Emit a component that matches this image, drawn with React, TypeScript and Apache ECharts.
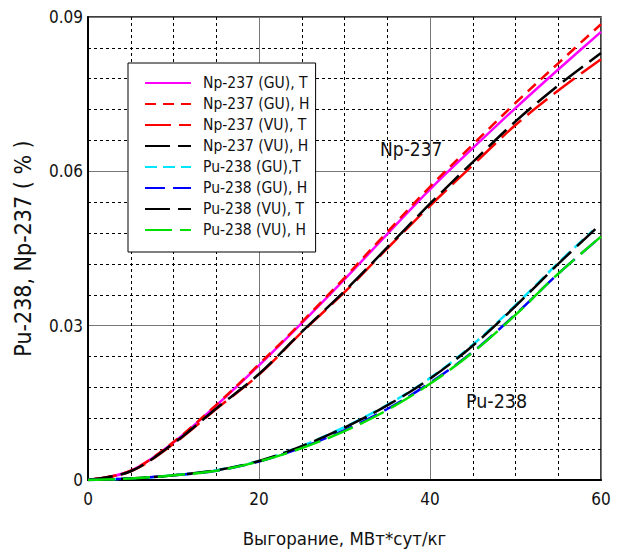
import React, { useEffect, useRef } from "react";
import * as echarts from "echarts";

const burnup = [0, 5, 10, 15, 20, 25, 30, 35, 40, 45, 50, 55, 60];
const burnupCyan = [0, 5, 10, 15, 20, 25, 30, 35, 40, 45, 50, 55, 59];

const npGuT = [0, 0.0018, 0.0073, 0.0145, 0.0223, 0.0305, 0.039, 0.0478, 0.0565, 0.0645, 0.0723, 0.0798, 0.0871];
const npGuH = [0, 0.0018, 0.0074, 0.0146, 0.0225, 0.0307, 0.0393, 0.0482, 0.057, 0.0652, 0.0733, 0.081, 0.0886];
const npVuT = [0, 0.0017, 0.007, 0.0138, 0.0205, 0.0287, 0.0365, 0.045, 0.0533, 0.0612, 0.069, 0.0757, 0.0818];
const npVuH = [0, 0.0017, 0.0071, 0.0139, 0.0206, 0.0288, 0.0367, 0.0452, 0.0537, 0.0618, 0.0697, 0.0767, 0.083];
const puGuT = [0, 0.0003, 0.0009, 0.0019, 0.0037, 0.0066, 0.0103, 0.0146, 0.0198, 0.0263, 0.034, 0.0422, 0.0484];
const puGuH = [0, 0.0003, 0.0009, 0.0018, 0.0036, 0.0063, 0.0097, 0.0138, 0.0189, 0.0249, 0.0322, 0.0401, 0.0473];
const puVuT = [0, 0.0003, 0.0009, 0.0019, 0.0037, 0.0066, 0.0102, 0.0145, 0.0197, 0.0261, 0.0338, 0.042, 0.0498];
const puVuH = [0, 0.0003, 0.0009, 0.0018, 0.0036, 0.0062, 0.0095, 0.0136, 0.0187, 0.0248, 0.0321, 0.0401, 0.0473];

const yTicks = [0, 0.03, 0.06, 0.09];
const yTickLabels = ["0", "0.03", "0.06", "0.09"];

const FONT = "'Liberation Sans Narrow', 'Arial Narrow', 'DejaVu Sans Condensed', sans-serif";

const seriesDefs = [
  { name: "Np-237 (GU), T", x: burnup, y: npGuT, color: "#ff00ff", dash: "solid" as any },
  { name: "Np-237 (GU), H", x: burnup, y: npGuH, color: "#ff0000", dash: [11, 7] },
  { name: "Np-237 (VU), T", x: burnup, y: npVuT, color: "#ff0000", dash: [26, 8] },
  { name: "Np-237 (VU), H", x: burnup, y: npVuH, color: "#000000", dash: [25, 8] },
  { name: "Pu-238 (GU),T", x: burnupCyan, y: puGuT, color: "#00e5ff", dash: [12, 6] },
  { name: "Pu-238 (GU), H", x: burnup, y: puGuH, color: "#0000ff", dash: [20, 8] },
  { name: "Pu-238 (VU), T", x: burnup, y: puVuT, color: "#000000", dash: [25, 8] },
  { name: "Pu-238 (VU), H", x: burnup, y: puVuH, color: "#00e000", dash: [27, 8] },
];

export default function App() {
  const ref = useRef<HTMLDivElement>(null);
  useEffect(() => {
    if (!ref.current) return;
    const chart = echarts.init(ref.current, null, { renderer: "svg" });
    chart.setOption({
      animation: false,
      backgroundColor: "#ffffff",
      textStyle: { fontFamily: FONT },
      grid: {
        left: 88,
        right: 17,
        top: 17,
        bottom: 72,
        show: true,
        borderColor: "#000",
        borderWidth: 1.5,
        backgroundColor: "transparent",
      },
      legend: {
        orient: "vertical",
        left: 128,
        top: 63,
        padding: [12, 6, 14, 16],
        itemWidth: 46,
        itemHeight: 14,
        itemGap: 5,
        backgroundColor: "#fff",
        borderColor: "#000",
        borderWidth: 1,
        borderRadius: 0,
        selectedMode: false,
        itemStyle: { opacity: 0, color: "transparent", borderWidth: 0 },
        textStyle: { fontFamily: FONT, fontSize: 15.5, color: "#111", padding: [0, 0, 0, 7] },
        data: seriesDefs.map((s) => s.name),
      },
      xAxis: {
        type: "value",
        min: 0,
        max: 60,
        interval: 20,
        name: "Выгорание, МВт*сут/кг",
        nameLocation: "middle",
        nameGap: 49,
        nameTextStyle: { fontFamily: FONT, fontSize: 18.5, color: "#111" },
        axisLine: { show: true, lineStyle: { color: "#000", width: 2 } },
        axisTick: { show: false },
        axisLabel: { fontFamily: FONT, fontSize: 17, color: "#111", margin: 10 },
        splitLine: { show: true, lineStyle: { color: "#777", width: 1 } },
        minorTick: { show: false, splitNumber: 4 },
        minorSplitLine: { show: true, lineStyle: { color: "#000", width: 1, type: [3, 3] } },
      },
      yAxis: {
        type: "value",
        min: 0,
        max: 0.09,
        interval: 0.03,
        name: "Pu-238, Np-237 ( % )",
        nameLocation: "middle",
        nameGap: 54,
        nameTextStyle: { fontFamily: FONT, fontSize: 23, color: "#111" },
        axisLine: { show: true, lineStyle: { color: "#000", width: 2 } },
        axisTick: { show: false },
        axisLabel: {
          fontFamily: FONT,
          fontSize: 17,
          color: "#111",
          margin: 5,
          formatter: (v: number) => {
            const i = yTicks.findIndex((t) => Math.abs(t - v) < 1e-9);
            return i >= 0 ? yTickLabels[i] : "";
          },
        },
        splitLine: { show: true, lineStyle: { color: "#777", width: 1 } },
        minorTick: { show: false, splitNumber: 5 },
        minorSplitLine: { show: true, lineStyle: { color: "#000", width: 1, type: [3, 3] } },
      },
      graphic: [
        {
          type: "text",
          left: 380,
          top: 139,
          style: { text: "Np-237", fontFamily: FONT, fontSize: 19, fill: "#111" },
        },
        {
          type: "text",
          left: 466,
          top: 391,
          style: { text: "Pu-238", fontFamily: FONT, fontSize: 19.5, fill: "#111" },
        },
      ],
      series: seriesDefs.map((s) => ({
        name: s.name,
        type: "line",
        data: s.x.map((xv, i) => [xv, s.y[i]]),
        smooth: 0.35,
        showSymbol: false,
        symbol: "none",
        color: s.color,
        lineStyle: { color: s.color, width: 2.5, type: s.dash },
      })),
    });
    return () => chart.dispose();
  }, []);
  return (
    <div
      ref={ref}
      style={{ position: "fixed", left: 0, top: 0, width: 618, height: 553 }}
    />
  );
}
